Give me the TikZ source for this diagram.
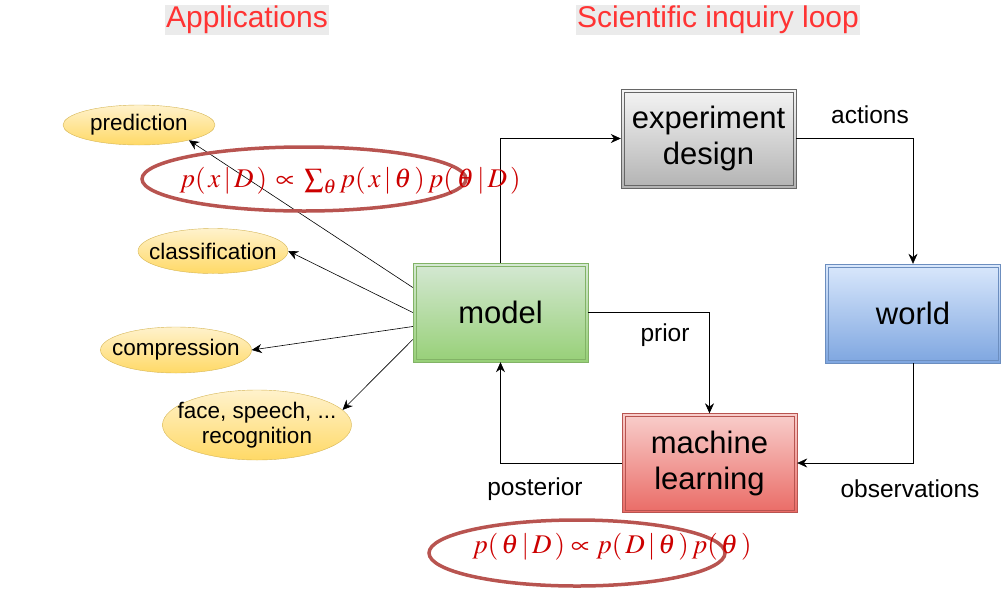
\documentclass[tikz,border=0pt]{standalone}
\usepackage{mathptmx}
\usepackage{fontspec}
\setmainfont{Liberation Sans}
\usepackage{xcolor}
\usetikzlibrary{arrows.meta,positioning,shapes.geometric}

\definecolor{titlered}{HTML}{FF3333}
\definecolor{titlebg}{HTML}{EBEBEB}
\definecolor{frmred}{HTML}{CC0000}
\definecolor{ringred}{HTML}{B85450}
\definecolor{appTop}{HTML}{FFF2CC}
\definecolor{appBot}{HTML}{FFD966}
\definecolor{appLine}{HTML}{D6B656}

\begin{document}
\begin{tikzpicture}[x=1pt, y=-1pt,
    box/.style={draw, rectangle, minimum width=175pt, minimum height=99pt, align=center, font=\fontsize{31}{36}\selectfont},
    app/.style={draw=appLine, ellipse, inner xsep=-25pt, inner ysep=-10pt, top color=appTop, bottom color=appBot, align=center, font=\fontsize{22.5}{25}\selectfont},
    lbl/.style={font=\fontsize{24.5}{28}\selectfont},
    ttl/.style={fill=titlebg, text=titlered, inner sep=1pt, font=\fontsize{30}{32}\selectfont},
    ring/.style={draw=ringred, line width=3.5pt, ellipse},
    frm/.style={text=frmred, font=\fontsize{27}{30}\selectfont},
    arr/.style={-{Stealth[length=10pt, width=9pt]}, semithick}
  ]
    \useasboundingbox (0,0) rectangle (1003,592);

    % titles
    \node[ttl] (tapp) at (247,20) {Applications};
    \node[ttl] (tsci) at (718,20) {Scientific inquiry loop};

    % loop boxes
    \node[box, draw=black!60, top color=black!4, bottom color=black!30] (exp) at (708.5,138.5) {experiment\\design};
    \node[box, draw={rgb,255:red,108;green,142;blue,191}, top color={rgb,255:red,218;green,232;blue,252}, bottom color={rgb,255:red,126;green,166;blue,224}] (world) at (913,313.5) {world};
    \node[box, draw={rgb,255:red,130;green,179;blue,102}, top color={rgb,255:red,213;green,232;blue,212}, bottom color={rgb,255:red,151;green,208;blue,119}] (model) at (500.5,312.5) {model};
    \node[box, draw={rgb,255:red,184;green,84;blue,80}, top color={rgb,255:red,248;green,206;blue,204}, bottom color={rgb,255:red,234;green,107;blue,102}] (ml) at (709.5,463) {machine\\learning};
    \foreach \n/\c in {exp/black!60, world/{rgb,255:red,108;green,142;blue,191}, model/{rgb,255:red,130;green,179;blue,102}, ml/{rgb,255:red,184;green,84;blue,80}}
      \draw[draw=\c] ([shift={(3,3)}]\n.north west) rectangle ([shift={(-3,-3)}]\n.south east);

    % applications
    \node[app, minimum width=152pt, minimum height=40pt] (pred) at (139,125) {prediction};
    \node[app, minimum width=150pt, minimum height=45pt] (cls) at (213,251) {classification};
    \node[app, minimum width=151pt, minimum height=46pt] (cmp) at (176,350) {compression};
    \node[app, minimum width=189pt, minimum height=70pt] (face) at (257,425) {face, speech, ...\\recognition};

    % loop
    \draw[arr] (model.north) |- (exp.west);
    \draw[arr] (exp.east) -| (world.north);
    \draw[arr] (world.south) |- (ml.east);
    \draw[arr] (model.east) -| (ml.north);
    \draw[arr] (ml.west) -| (model.south);
    \node[lbl] (lact) at (870,115) {actions};
    \node[lbl] (lobs) at (910,489) {observations};
    \node[lbl] (lpri) at (665,335) {prior};
    \node[lbl] (lpos) at (535,489) {posterior};

    % model to applications
    \draw[arr] ([yshift=25pt]model.west) -- (pred.-17);
    \draw[arr] (model.west) -- (cls.east);
    \draw[arr] ([yshift=-14pt]model.west) -- (cmp.east);
    \draw[arr] ([yshift=-27pt]model.west) -- (face.10);

    % formulas
    \node[ring, minimum width=324pt, minimum height=64pt] (r1) at (304,179) {};
    \node[ring, minimum width=296pt, minimum height=66pt] (r2) at (577,553) {};
    \node[frm] (f1) at (350,181) {$p(\,x\,|\,D\,) \mathrel{\,\propto\,} \sum_{\theta} p(\,x\,|\,\theta\,)\,p(\,\theta\,|\,D\,)$};
    \node[frm] (f2) at (612,547) {$p(\,\theta\,|\,D\,) \propto p(\,D\,|\,\theta\,)\,p(\,\theta\,)$};
\end{tikzpicture}
\end{document}
